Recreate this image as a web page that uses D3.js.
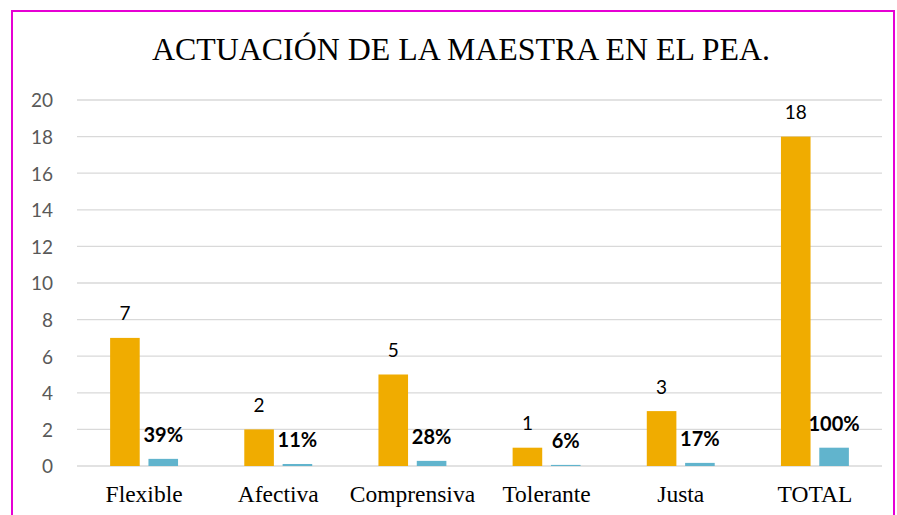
<!DOCTYPE html>
<html>
<head>
<meta charset="utf-8">
<script src="https://cdn.jsdelivr.net/npm/d3@7"></script>
<style>
  html, body { margin: 0; padding: 0; background: #fff; }
  svg { display: block; }
</style>
</head>
<body>
<svg id="chart" width="897" height="515"></svg>
<script>
const title = "ACTUACIÓN DE LA MAESTRA EN EL PEA.";
const categories = ["Flexible", "Afectiva", "Comprensiva", "Tolerante", "Justa", "TOTAL"];
const seriesNames = ["Frecuencia", "Porcentaje"];
const counts = [7, 2, 5, 1, 3, 18];
const shares = [0.39, 0.11, 0.28, 0.06, 0.17, 1.00];
const shareLabels = ["39%", "11%", "28%", "6%", "17%", "100%"];
const yTicks = [0, 2, 4, 6, 8, 10, 12, 14, 16, 18, 20];

const colors = { Frecuencia: "#F0AC00", Porcentaje: "#61B4CD" };

const svg = d3.select("#chart");

// frame
svg.append("rect")
  .attr("x", 12).attr("y", 11)
  .attr("width", 882).attr("height", 520)
  .attr("fill", "#fff")
  .attr("stroke", "#E600D4")
  .attr("stroke-width", 2);

// title
svg.append("text")
  .attr("x", 461).attr("y", 60)
  .attr("text-anchor", "middle")
  .attr("font-family", "'Liberation Serif', 'Times New Roman', serif")
  .attr("font-size", 31.5)
  .attr("fill", "#000")
  .attr("textLength", 618)
  .attr("lengthAdjust", "spacingAndGlyphs")
  .text(title);

const plotLeft = 77, plotRight = 882, plotTop = 100, plotBottom = 466;

const y = d3.scaleLinear().domain([0, 20]).range([plotBottom, plotTop]);
const x0 = d3.scaleBand().domain(categories).range([plotLeft, plotRight]).paddingInner(0).paddingOuter(0);
const x1 = d3.scaleBand().domain(seriesNames).range([0, x0.bandwidth()])
  .paddingInner(0.228).paddingOuter(0.864);

// grid
svg.append("g")
  .selectAll("line")
  .data(yTicks)
  .join("line")
  .attr("x1", plotLeft).attr("x2", plotRight)
  .attr("y1", d => y(d)).attr("y2", d => y(d))
  .attr("stroke", "#D9D9D9")
  .attr("stroke-width", 1.3);

// y axis labels
const yAxis = d3.axisLeft(y).tickValues(yTicks).tickSize(0).tickPadding(0);
const gy = svg.append("g").attr("transform", `translate(53,0)`).call(yAxis);
gy.select(".domain").remove();
gy.selectAll("text")
  .attr("font-family", "Lato, 'Open Sans', sans-serif")
  .attr("font-size", 19)
  .attr("fill", "#595959")
  .attr("dy", "0.36em");

// x axis labels
const xAxis = d3.axisBottom(x0).tickSize(0).tickPadding(0);
const gx = svg.append("g").attr("transform", `translate(0,${plotBottom})`).call(xAxis);
gx.select(".domain").remove();
gx.selectAll("text")
  .attr("font-family", "'Liberation Serif', 'Times New Roman', serif")
  .attr("font-size", 23.5)
  .attr("fill", "#000")
  .attr("y", 36)
  .attr("dy", 0);

const rows = categories.map((c, i) => ({ cat: c, count: counts[i], share: shares[i], label: shareLabels[i] }));

const groups = svg.append("g").selectAll("g")
  .data(rows)
  .join("g")
  .attr("transform", d => `translate(${x0(d.cat)},0)`);

groups.append("rect")
  .attr("x", x1("Frecuencia"))
  .attr("width", x1.bandwidth())
  .attr("y", d => y(d.count))
  .attr("height", d => y(0) - y(d.count))
  .attr("fill", colors.Frecuencia);

groups.append("rect")
  .attr("x", x1("Porcentaje"))
  .attr("width", x1.bandwidth())
  .attr("y", d => y(d.share))
  .attr("height", d => y(0) - y(d.share))
  .attr("fill", colors.Porcentaje);

groups.append("text")
  .attr("x", x1("Frecuencia") + x1.bandwidth() / 2)
  .attr("y", d => y(d.count) - 17.5)
  .attr("text-anchor", "middle")
  .attr("font-family", "Lato, 'Open Sans', sans-serif")
  .attr("font-size", 19)
  .attr("fill", "#000")
  .text(d => d.count);

groups.append("text")
  .attr("x", x1("Porcentaje") + x1.bandwidth() / 2)
  .attr("y", d => y(d.share) - 17)
  .attr("text-anchor", "middle")
  .attr("font-family", "Lato, 'Open Sans', sans-serif")
  .attr("font-weight", "bold")
  .attr("font-size", 20)
  .attr("fill", "#000")
  .text(d => d.label);
</script>
</body>
</html>
